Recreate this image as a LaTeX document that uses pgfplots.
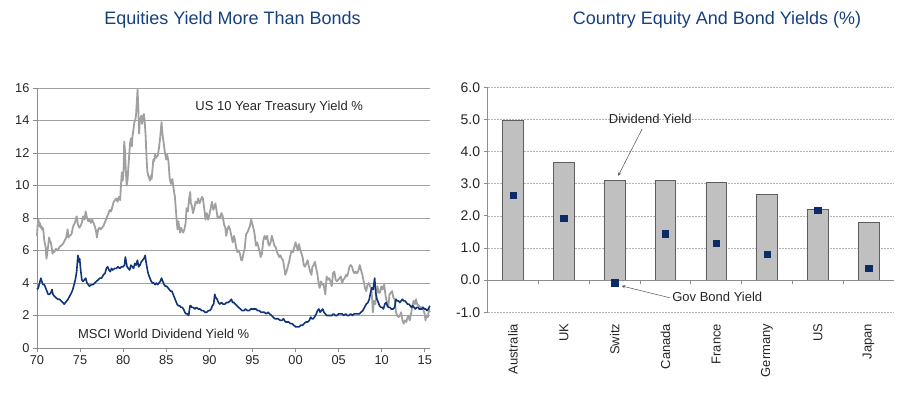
\documentclass[border=0pt]{standalone}
\usepackage{pgfplots}
\pgfplotsset{compat=1.18}
\usepackage{fontspec}
\setmainfont{Liberation Sans}
\definecolor{titleblue}{HTML}{17407F}
\definecolor{navyline}{HTML}{0F3478}
\definecolor{tsygray}{HTML}{A0A0A0}
\definecolor{gridgray}{HTML}{A0A0A0}
\definecolor{axisgray}{HTML}{8C8C8C}
\definecolor{barfill}{HTML}{C0C0C0}
\definecolor{bardraw}{HTML}{5E5E5E}
\definecolor{marknavy}{HTML}{0B2C66}
\definecolor{labelcol}{HTML}{262626}
\begin{document}
\begin{tikzpicture}
\path[use as bounding box] (0,0) rectangle (899pt,395pt);
\node[font=\fontsize{18}{21}\selectfont, text=titleblue] at (232.5pt,375pt) {Equities Yield More Than Bonds};
\node[font=\fontsize{18}{21}\selectfont, text=titleblue] at (717pt,375pt) {Country Equity And Bond Yields (\%)};
% ---------------- left chart ----------------
\begin{axis}[
  at={(37pt,47pt)}, anchor=south west,
  scale only axis, width=393pt, height=260pt,
  xmin=1970, xmax=2015.6, ymin=0, ymax=16,
  axis x line*=bottom, axis y line*=left,
  axis line style={draw=axisgray, line width=0.8pt},
  xtick={1970,1975,...,2015},
  xticklabels={70,75,80,85,90,95,00,05,10,15},
  ytick={0,2,...,16},
  yticklabels={0,2,4,6,8,10,12,14,16},
  tick align=outside, major tick length=4pt,
  tick style={draw=axisgray, line width=0.8pt},
  ymajorgrids, major grid style={draw=gridgray, line width=0.9pt},
  ticklabel style={font=\fontsize{12.8}{14}\selectfont, text=labelcol},
  /pgf/number format/assume math mode=true,
  clip=false,
]
\addplot[tsygray, line width=1.8pt, line join=round] coordinates {
(1970.00,6.9)(1970.08,7.6)(1970.17,7.9)(1970.25,7.5)(1970.33,7.7)(1970.42,7.4)(1970.50,7.5)(1970.58,7.3)(1970.67,7.4)(1970.75,7.2)(1970.83,6.7)(1970.92,6.4)
(1971.00,6.2)(1971.10,5.5)(1971.20,5.9)(1971.30,6.3)(1971.40,6.8)(1971.50,6.6)(1971.60,6.5)(1971.70,6.2)(1971.80,5.8)(1971.90,6.0)
(1972.00,5.9)(1972.20,6.1)(1972.40,6.0)(1972.60,6.2)(1972.80,6.3)
(1973.00,6.4)(1973.20,6.6)(1973.40,6.8)(1973.55,7.3)(1973.65,6.8)(1973.80,6.9)
(1974.00,7.0)(1974.20,7.5)(1974.40,7.7)(1974.60,8.1)(1974.75,7.6)(1974.90,7.4)
(1975.05,7.5)(1975.20,7.7)(1975.35,8.1)(1975.50,7.9)(1975.65,8.4)(1975.80,8.0)(1975.95,7.8)
(1976.10,7.9)(1976.25,7.7)(1976.40,7.9)(1976.55,7.7)(1976.70,7.5)(1976.85,7.2)(1976.95,6.8)
(1977.10,7.3)(1977.25,7.4)(1977.40,7.3)(1977.55,7.4)(1977.70,7.5)(1977.85,7.7)
(1978.00,7.9)(1978.15,8.1)(1978.30,8.3)(1978.45,8.5)(1978.60,8.4)(1978.75,8.7)(1978.90,9.0)
(1979.05,9.1)(1979.20,9.2)(1979.35,9.0)(1979.50,9.3)(1979.65,9.1)(1979.75,10.1)(1979.85,10.8)(1979.95,10.3)
(1980.05,11.0)(1980.12,12.7)(1980.20,12.2)(1980.30,11.0)(1980.40,10.0)(1980.50,10.3)(1980.60,11.1)(1980.70,11.9)(1980.80,12.6)(1980.90,12.9)
(1981.00,12.4)(1981.10,13.1)(1981.20,13.5)(1981.30,13.9)(1981.40,14.0)(1981.50,14.4)(1981.60,15.3)(1981.67,15.9)(1981.75,14.8)(1981.85,13.2)(1981.92,13.9)
(1982.00,14.0)(1982.10,14.3)(1982.20,13.8)(1982.30,14.2)(1982.40,14.4)(1982.50,13.9)(1982.60,13.1)(1982.70,11.8)(1982.80,10.9)(1982.90,10.6)
(1983.00,10.5)(1983.10,10.3)(1983.20,10.6)(1983.30,10.4)(1983.40,11.0)(1983.50,11.6)(1983.60,11.5)(1983.70,11.9)(1983.80,11.7)(1983.90,11.8)
(1984.00,11.8)(1984.15,12.3)(1984.30,13.0)(1984.45,13.9)(1984.55,13.2)(1984.70,12.6)(1984.85,12.0)
(1985.00,11.6)(1985.10,11.9)(1985.25,11.5)(1985.40,10.4)(1985.55,10.1)(1985.70,10.4)(1985.85,9.8)
(1986.00,9.3)(1986.10,8.6)(1986.20,7.9)(1986.30,7.3)(1986.40,7.8)(1986.50,7.4)(1986.60,7.1)(1986.70,7.4)(1986.80,7.3)(1986.95,7.1)
(1987.10,7.3)(1987.25,7.7)(1987.35,8.6)(1987.50,8.4)(1987.65,9.2)(1987.78,9.6)(1987.85,8.9)(1987.95,8.8)
(1988.10,8.3)(1988.25,8.6)(1988.40,9.0)(1988.55,8.9)(1988.70,9.2)(1988.85,8.9)
(1989.00,9.1)(1989.15,9.3)(1989.25,9.2)(1989.40,8.6)(1989.55,7.9)(1989.70,8.3)(1989.85,7.9)
(1990.00,8.2)(1990.15,8.6)(1990.30,9.0)(1990.45,8.5)(1990.60,8.7)(1990.70,8.9)(1990.85,8.4)(1990.95,8.0)
(1991.10,8.1)(1991.25,8.0)(1991.40,8.3)(1991.55,8.1)(1991.70,7.6)(1991.85,7.4)(1991.95,6.9)
(1992.10,7.3)(1992.25,7.5)(1992.40,7.3)(1992.55,6.9)(1992.70,6.5)(1992.85,6.9)(1992.95,6.7)
(1993.10,6.2)(1993.25,5.9)(1993.40,6.0)(1993.55,5.8)(1993.70,5.4)(1993.80,5.4)(1993.95,5.8)
(1994.10,6.1)(1994.25,7.0)(1994.40,7.1)(1994.55,7.3)(1994.70,7.5)(1994.85,7.9)(1994.95,7.7)
(1995.10,7.4)(1995.25,7.0)(1995.40,6.3)(1995.55,6.5)(1995.70,6.2)(1995.85,5.9)(1995.95,5.6)
(1996.10,5.8)(1996.25,6.6)(1996.40,6.9)(1996.55,6.7)(1996.70,6.9)(1996.85,6.4)(1996.95,6.3)
(1997.10,6.5)(1997.25,6.9)(1997.40,6.6)(1997.55,6.3)(1997.70,6.2)(1997.85,5.9)(1997.95,5.8)
(1998.10,5.6)(1998.25,5.7)(1998.40,5.5)(1998.55,5.4)(1998.70,4.9)(1998.80,4.5)(1998.95,4.7)
(1999.10,5.0)(1999.25,5.3)(1999.40,5.7)(1999.55,6.0)(1999.70,5.9)(1999.85,6.2)
(2000.00,6.5)(2000.10,6.3)(2000.25,6.0)(2000.40,6.4)(2000.55,6.0)(2000.70,5.8)(2000.85,5.5)(2000.95,5.1)
(2001.10,5.0)(2001.25,5.2)(2001.40,5.4)(2001.55,5.0)(2001.70,4.7)(2001.85,4.5)(2001.95,5.0)
(2002.10,5.1)(2002.25,5.3)(2002.40,4.9)(2002.55,4.5)(2002.70,3.9)(2002.80,3.7)(2002.95,4.1)
(2003.10,3.9)(2003.25,3.9)(2003.45,3.3)(2003.60,4.4)(2003.75,4.2)(2003.90,4.3)
(2004.05,4.1)(2004.20,3.8)(2004.35,4.6)(2004.50,4.7)(2004.65,4.2)(2004.80,4.1)(2004.95,4.2)
(2005.10,4.3)(2005.25,4.4)(2005.40,4.0)(2005.55,4.2)(2005.70,4.3)(2005.85,4.5)(2005.95,4.4)
(2006.10,4.6)(2006.25,5.0)(2006.40,5.1)(2006.55,5.0)(2006.70,4.7)(2006.85,4.6)(2006.95,4.7)
(2007.10,4.6)(2007.25,4.7)(2007.45,5.1)(2007.60,4.8)(2007.75,4.5)(2007.90,4.1)
(2008.05,3.7)(2008.20,3.5)(2008.35,3.9)(2008.50,4.0)(2008.65,3.8)(2008.80,3.6)(2008.90,2.9)(2008.97,2.2)
(2009.10,2.9)(2009.25,2.7)(2009.40,3.5)(2009.50,3.8)(2009.65,3.4)(2009.80,3.4)(2009.95,3.8)
(2010.10,3.6)(2010.28,3.9)(2010.45,3.2)(2010.60,2.8)(2010.75,2.5)(2010.90,3.3)
(2011.05,3.4)(2011.20,3.5)(2011.35,3.1)(2011.50,3.0)(2011.65,2.2)(2011.80,2.0)(2011.95,1.9)
(2012.10,2.0)(2012.25,2.2)(2012.40,1.7)(2012.55,1.5)(2012.70,1.7)(2012.85,1.6)(2012.95,1.8)
(2013.10,2.0)(2013.25,1.7)(2013.40,2.1)(2013.55,2.6)(2013.70,2.9)(2013.85,2.7)(2013.98,3.0)
(2014.10,2.7)(2014.30,2.6)(2014.50,2.5)(2014.70,2.5)(2014.85,2.3)(2014.98,2.1)
(2015.08,1.7)(2015.20,2.0)(2015.35,1.9)(2015.48,2.4)(2015.58,2.2)
};
\addplot[navyline, line width=1.6pt, line join=round] coordinates {
(1970.00,3.6)(1970.15,3.7)(1970.30,4.0)(1970.45,4.3)(1970.55,4.1)(1970.70,3.9)(1970.85,3.9)
(1971.00,3.7)(1971.15,3.5)(1971.30,3.3)(1971.45,3.3)(1971.60,3.4)(1971.75,3.6)(1971.85,3.3)
(1972.00,3.2)(1972.20,3.1)(1972.40,3.0)(1972.60,3.0)(1972.80,2.9)
(1973.00,2.8)(1973.15,2.7)(1973.30,2.8)(1973.45,2.9)(1973.60,3.0)(1973.80,3.2)
(1974.00,3.4)(1974.15,3.6)(1974.30,3.9)(1974.45,4.2)(1974.60,4.7)(1974.75,5.7)(1974.85,5.3)(1974.95,5.5)
(1975.05,4.9)(1975.20,4.2)(1975.35,4.1)(1975.50,4.2)(1975.65,4.3)(1975.80,4.0)(1975.95,3.9)
(1976.10,3.8)(1976.30,3.9)(1976.50,3.9)(1976.70,4.0)(1976.90,4.1)
(1977.10,4.2)(1977.30,4.3)(1977.50,4.3)(1977.70,4.5)(1977.90,4.6)
(1978.05,4.9)(1978.20,5.0)(1978.35,4.8)(1978.50,4.7)(1978.65,4.9)(1978.80,4.8)
(1979.00,4.9)(1979.20,4.9)(1979.40,5.0)(1979.60,4.9)(1979.80,5.0)
(1980.00,5.0)(1980.15,5.1)(1980.25,5.6)(1980.35,5.3)(1980.45,5.0)(1980.60,4.9)(1980.75,4.8)(1980.90,5.1)
(1981.05,5.0)(1981.20,4.9)(1981.35,5.2)(1981.50,5.1)(1981.65,5.4)(1981.80,5.0)(1981.95,5.1)
(1982.10,5.3)(1982.25,5.4)(1982.40,5.5)(1982.55,5.7)(1982.65,5.3)(1982.75,5.0)(1982.85,4.7)(1982.95,4.5)
(1983.10,4.3)(1983.25,4.1)(1983.40,4.0)(1983.55,4.0)(1983.70,3.9)(1983.85,4.0)
(1984.00,3.9)(1984.15,4.0)(1984.30,4.1)(1984.45,4.3)(1984.60,4.1)(1984.75,3.9)(1984.90,3.8)
(1985.05,3.8)(1985.20,3.7)(1985.35,3.6)(1985.50,3.5)(1985.65,3.5)(1985.80,3.3)(1985.95,3.1)
(1986.10,2.9)(1986.25,2.7)(1986.40,2.6)(1986.55,2.6)(1986.70,2.5)(1986.85,2.5)
(1987.00,2.4)(1987.15,2.2)(1987.30,2.1)(1987.45,2.1)(1987.60,2.0)(1987.75,2.6)(1987.85,2.6)(1987.95,2.5)
(1988.10,2.5)(1988.30,2.4)(1988.50,2.5)(1988.70,2.4)(1988.90,2.4)
(1989.10,2.3)(1989.30,2.3)(1989.50,2.2)(1989.70,2.2)(1989.90,2.3)
(1990.05,2.3)(1990.20,2.4)(1990.35,2.6)(1990.50,2.7)(1990.62,3.3)(1990.75,3.1)(1990.90,3.0)
(1991.05,2.8)(1991.20,2.7)(1991.40,2.8)(1991.60,2.7)(1991.80,2.7)
(1992.00,2.8)(1992.20,2.8)(1992.40,2.9)(1992.55,3.0)(1992.70,2.8)(1992.85,2.8)
(1993.00,2.7)(1993.20,2.6)(1993.40,2.5)(1993.60,2.4)(1993.80,2.3)
(1994.00,2.3)(1994.20,2.4)(1994.40,2.3)(1994.60,2.3)(1994.80,2.4)
(1995.00,2.4)(1995.20,2.4)(1995.40,2.4)(1995.60,2.3)(1995.80,2.3)
(1996.00,2.2)(1996.20,2.2)(1996.40,2.2)(1996.60,2.1)(1996.80,2.2)
(1997.00,2.1)(1997.20,2.0)(1997.40,1.9)(1997.60,1.8)(1997.80,1.8)
(1998.00,1.8)(1998.20,1.7)(1998.40,1.7)(1998.60,1.8)(1998.70,1.7)(1998.85,1.6)
(1999.00,1.6)(1999.20,1.6)(1999.40,1.5)(1999.60,1.5)(1999.80,1.4)
(2000.00,1.3)(2000.20,1.3)(2000.40,1.3)(2000.60,1.4)(2000.80,1.4)
(2001.00,1.5)(2001.20,1.6)(2001.40,1.6)(2001.60,1.7)(2001.75,1.9)(2001.90,1.8)
(2002.05,1.8)(2002.20,1.9)(2002.40,2.1)(2002.55,2.3)(2002.70,2.4)(2002.85,2.2)
(2003.00,2.3)(2003.15,2.4)(2003.30,2.2)(2003.45,2.1)(2003.60,2.0)(2003.80,2.0)
(2004.00,2.0)(2004.20,2.0)(2004.40,2.1)(2004.60,2.0)(2004.80,2.0)
(2005.00,2.1)(2005.20,2.1)(2005.40,2.1)(2005.60,2.0)(2005.80,2.1)
(2006.00,2.0)(2006.20,2.0)(2006.40,2.1)(2006.60,2.0)(2006.80,2.1)
(2007.00,2.1)(2007.20,2.1)(2007.40,2.1)(2007.60,2.2)(2007.80,2.3)
(2008.00,2.5)(2008.20,2.7)(2008.40,2.8)(2008.55,3.0)(2008.70,3.4)(2008.85,3.7)
(2009.00,3.6)(2009.10,4.0)(2009.18,4.3)(2009.30,3.4)(2009.45,3.0)(2009.60,2.8)(2009.75,2.6)(2009.90,2.5)
(2010.05,2.5)(2010.20,2.4)(2010.35,2.7)(2010.50,2.8)(2010.65,2.6)(2010.80,2.5)(2010.95,2.5)
(2011.10,2.4)(2011.30,2.4)(2011.50,2.5)(2011.65,3.0)(2011.80,2.9)(2011.95,2.9)
(2012.10,2.8)(2012.25,2.9)(2012.40,3.0)(2012.55,2.9)(2012.70,2.9)(2012.85,2.8)
(2013.00,2.7)(2013.15,2.7)(2013.30,2.6)(2013.45,2.5)(2013.60,2.6)(2013.75,2.5)(2013.90,2.4)
(2014.05,2.5)(2014.20,2.5)(2014.35,2.4)(2014.50,2.4)(2014.65,2.4)(2014.80,2.5)(2014.95,2.4)
(2015.10,2.4)(2015.25,2.3)(2015.40,2.4)(2015.50,2.5)(2015.58,2.6)
};
\node[font=\fontsize{13}{15}\selectfont, text=labelcol] at (axis cs:1998.1,14.8) {US 10 Year Treasury Yield \%};
\node[font=\fontsize{13}{15}\selectfont, text=labelcol] at (axis cs:1984.7,0.85) {MSCI World Dividend Yield \%};
\end{axis}
% ---------------- right chart ----------------
\begin{axis}[
  at={(487.7pt,82.7pt)}, anchor=south west,
  scale only axis, width=406.3pt, height=225pt,
  xmin=-0.5, xmax=7.5, ymin=-1, ymax=6,
  axis y line*=left, axis x line*=bottom,
  x axis line style={draw=none},
  y axis line style={draw=axisgray, line width=0.8pt},
  xtick={0,...,7},
  xticklabels={Australia,UK,Switz,Canada,France,Germany,US,Japan},
  x tick style={draw=none},
  ytick={-1,0,...,6},
  yticklabels={-1.0,0.0,1.0,2.0,3.0,4.0,5.0,6.0},
  y tick style={draw=axisgray, line width=0.8pt},
  tick align=outside, major tick length=4pt,
  ymajorgrids, major grid style={draw=gridgray!80, line width=0.6pt, dash pattern=on 2pt off 1pt},
  yticklabel style={font=\fontsize{14}{16}\selectfont, text=labelcol},
  xticklabel style={font=\fontsize{13}{15}\selectfont, text=labelcol, rotate=90, anchor=east},
  xticklabel shift=4pt,
  /pgf/number format/assume math mode=true,
  clip=false,
]
\addplot[ybar, bar width=20.7pt, bar shift=0pt, fill=barfill, draw=bardraw, line width=0.8pt] coordinates {
(0,4.96)(1,3.67)(2,3.09)(3,3.09)(4,3.03)(5,2.68)(6,2.21)(7,1.79)
};
\draw[axisgray, line width=0.8pt] (axis cs:-0.5,0) -- (axis cs:7.5,0);
\pgfplotsinvokeforeach{0.5,1.5,2.5,3.5,4.5,5.5,6.5}{
  \draw[axisgray, line width=0.8pt] (axis cs:#1,0) -- ([yshift=-4pt]axis cs:#1,0);
}
\addplot[only marks, mark=square*, mark size=3.2pt, mark options={fill=marknavy, draw=marknavy}] coordinates {
(0,2.65)(1,1.93)(2,-0.08)(3,1.44)(4,1.15)(5,0.80)(6,2.18)(7,0.37)
};
\draw[-stealth, draw=labelcol!80, line width=0.5pt] (axis cs:2.54,4.70) -- (axis cs:2.07,3.25);
\draw[-stealth, draw=labelcol!80, line width=0.5pt] (axis cs:3.09,-0.55) -- (axis cs:2.14,-0.18);
\node[font=\fontsize{13}{15}\selectfont, text=labelcol] at (axis cs:2.70,5.02) {Dividend Yield};
\node[font=\fontsize{13}{15}\selectfont, text=labelcol] at (axis cs:4.02,-0.52) {Gov Bond Yield};
\end{axis}
\end{tikzpicture}
\end{document}
